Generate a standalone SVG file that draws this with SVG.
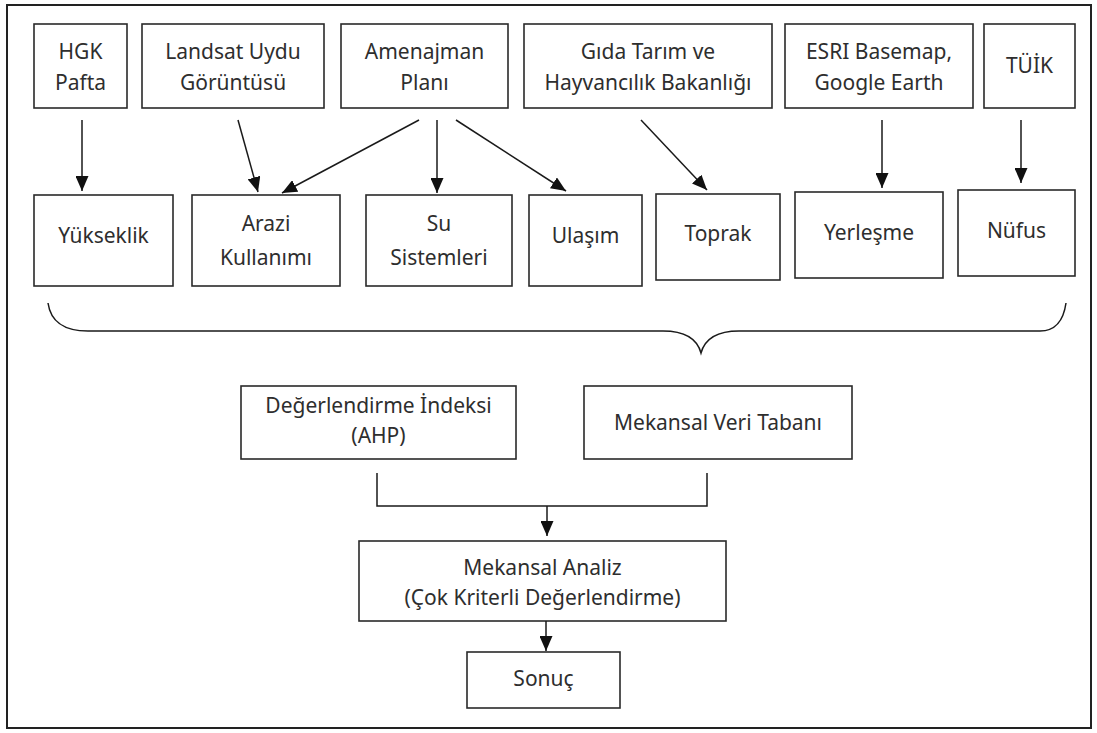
<svg xmlns="http://www.w3.org/2000/svg" width="1097" height="733" viewBox="0 0 1097 733">
<style>
.box{fill:#fff;stroke:#2a2a2a;stroke-width:1.6}
.t{font-family:"Noto Sans","Open Sans",sans-serif;font-size:21px;fill:#2e2e2e;text-anchor:middle}
.c{fill:none;stroke:#1a1a1a;stroke-width:1.5}
</style>
<defs>
<marker id="ah" viewBox="0 0 10 10" refX="10" refY="5" markerWidth="15" markerHeight="13" markerUnits="userSpaceOnUse" orient="auto" preserveAspectRatio="none">
<path d="M0,0 L10,5 L0,10 z" fill="#111"/>
</marker>
</defs>
<rect x="0" y="0" width="1097" height="733" fill="#fff"/>
<rect x="7" y="5" width="1084" height="723" fill="none" stroke="#222" stroke-width="2"/>

<g id="n-hgk"><rect class="box" x="34" y="24" width="93" height="84"/><text class="t" x="80.5" y="59">HGK</text><text class="t" x="80.5" y="90">Pafta</text></g>
<g id="n-landsat"><rect class="box" x="142" y="24" width="182" height="84"/><text class="t" x="233" y="59">Landsat Uydu</text><text class="t" x="233" y="90">Görüntüsü</text></g>
<g id="n-amenajman"><rect class="box" x="341" y="24" width="167" height="84"/><text class="t" x="424.5" y="59">Amenajman</text><text class="t" x="424.5" y="90">Planı</text></g>
<g id="n-gida"><rect class="box" x="524" y="24" width="248" height="84"/><text class="t" x="648" y="59">Gıda Tarım ve</text><text class="t" x="648" y="90">Hayvancılık Bakanlığı</text></g>
<g id="n-esri"><rect class="box" x="785" y="24" width="188" height="84"/><text class="t" x="879" y="59">ESRI Basemap,</text><text class="t" x="879" y="90">Google Earth</text></g>
<g id="n-tuik"><rect class="box" x="984" y="24" width="91" height="84"/><text class="t" x="1029.5" y="73">TÜİK</text></g>

<g id="n-yukseklik"><rect class="box" x="34" y="195" width="139" height="91"/><text class="t" x="103.5" y="243">Yükseklik</text></g>
<g id="n-arazi"><rect class="box" x="192" y="195" width="148" height="91"/><text class="t" x="266" y="231">Arazi</text><text class="t" x="266" y="265">Kullanımı</text></g>
<g id="n-su"><rect class="box" x="366" y="195" width="146" height="91"/><text class="t" x="439" y="231">Su</text><text class="t" x="439" y="265">Sistemleri</text></g>
<g id="n-ulasim"><rect class="box" x="529" y="195" width="113" height="91"/><text class="t" x="585.5" y="243">Ulaşım</text></g>
<g id="n-toprak"><rect class="box" x="656" y="194" width="124" height="86"/><text class="t" x="718" y="241">Toprak</text></g>
<g id="n-yerlesme"><rect class="box" x="795" y="192" width="148" height="86"/><text class="t" x="869" y="240">Yerleşme</text></g>
<g id="n-nufus"><rect class="box" x="958" y="190" width="117" height="86"/><text class="t" x="1016.5" y="238">Nüfus</text></g>

<g id="n-brace"><path class="c" d="M48 303 Q52 331 88 331 L663 331 Q695 331 701 353 Q707 331 739 331 L1040 331 Q1062 331 1066 303"/></g>

<g id="n-degerlendirme"><rect class="box" x="241" y="386" width="275" height="73"/><text class="t" x="378.5" y="413">Değerlendirme İndeksi</text><text class="t" x="378.5" y="443">(AHP)</text></g>
<g id="n-veritabani"><rect class="box" x="584" y="386" width="268" height="73"/><text class="t" x="718" y="430">Mekansal Veri Tabanı</text></g>
<g id="n-analiz"><rect class="box" x="359" y="541" width="367" height="80"/><text class="t" x="542.5" y="575">Mekansal Analiz</text><text class="t" x="542.5" y="605">(Çok Kriterli Değerlendirme)</text></g>
<g id="n-sonuc"><rect class="box" x="467" y="652" width="153" height="56"/><text class="t" x="543.5" y="686">Sonuç</text></g>

<g id="connectors">
<line class="c" x1="82" y1="120" x2="82" y2="191" marker-end="url(#ah)"/>
<line class="c" x1="238" y1="120" x2="258" y2="192" marker-end="url(#ah)"/>
<line class="c" x1="419" y1="120" x2="282" y2="193" marker-end="url(#ah)"/>
<line class="c" x1="437" y1="120" x2="437" y2="193" marker-end="url(#ah)"/>
<line class="c" x1="456" y1="120" x2="566" y2="191" marker-end="url(#ah)"/>
<line class="c" x1="641" y1="120" x2="707" y2="190" marker-end="url(#ah)"/>
<line class="c" x1="882" y1="120" x2="882" y2="188" marker-end="url(#ah)"/>
<line class="c" x1="1021" y1="120" x2="1021" y2="183" marker-end="url(#ah)"/>
<path class="c" d="M377 473 V506 H707 V473"/>
<line class="c" x1="547" y1="506" x2="547" y2="536" marker-end="url(#ah)"/>
<line class="c" x1="546" y1="621" x2="546" y2="651" marker-end="url(#ah)"/>
</g>
</svg>
